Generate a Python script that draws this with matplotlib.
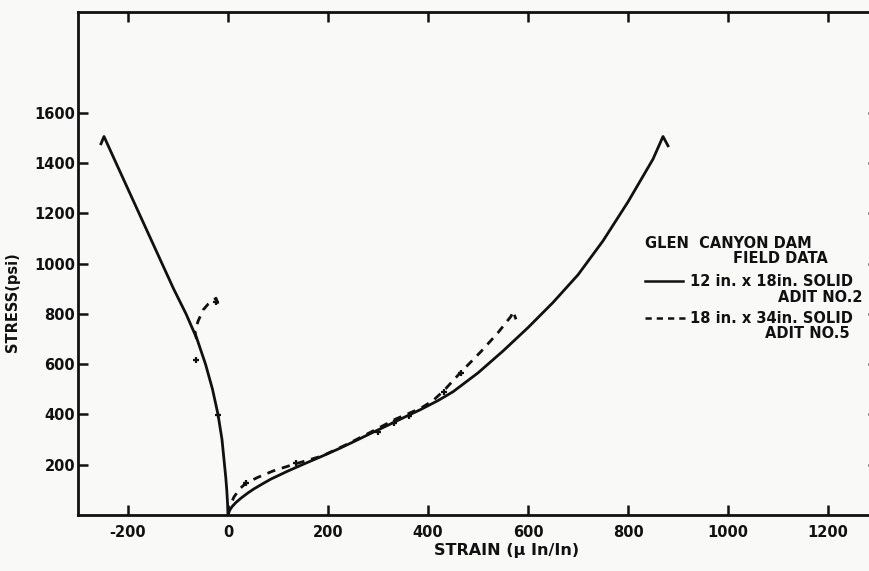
import matplotlib
matplotlib.use("Agg")
import matplotlib.pyplot as plt

# Solid curve: 12 in. x 18 in. solid, Adit No.2 (compression side, left)
solid_left_stress = [0, 50, 100, 150, 200, 300, 400, 500, 600, 700, 800, 900, 1000, 1100, 1200, 1300, 1400, 1505, 1476]
solid_left_strain = [0, -1, -2.5, -4.5, -7, -12, -20, -31, -45, -62, -84, -109, -132, -155, -178, -201, -224, -248, -254]
# Solid curve (tension side, right)
solid_right_strain = [0, 3, 8, 16, 26, 40, 52, 70, 86, 120, 152, 186, 220, 252, 286, 320, 352, 386, 420, 450,
                      500, 550, 600, 650, 700, 750, 800, 850, 870, 880]
solid_right_stress = [0, 18, 33, 50, 67, 88, 104, 125, 143, 175, 203, 232, 262, 292, 325, 357, 388, 420, 455, 490,
                      565, 652, 745, 845, 955, 1090, 1245, 1415, 1505, 1468]

# Dashed curve: 18 in. x 34 in. solid, Adit No.5
dash_left_strain = [-63, -66, -60, -50, -40, -30, -24, -20]
dash_left_stress = [700, 730, 770, 815, 838, 852, 862, 840]
dash_right_strain = [0, 5, 12, 24, 36, 60, 90, 126, 160, 190, 240, 286, 336, 386, 410, 432, 462, 506, 540, 566, 570, 576]
dash_right_stress = [0, 40, 72, 105, 127, 150, 175, 198, 218, 236, 283, 330, 382, 425, 455, 495, 560, 650, 725, 790, 810, 778]

# Scattered data marks along the curves
mark_strain = [-64, -20, -24, 36, 136, 300, 332, 362, 432, 466]
mark_stress = [615, 397, 845, 127, 205, 330, 365, 395, 490, 565]

x_ticks = [-200, 0, 200, 400, 600, 800, 1000, 1200]
y_ticks = [200, 400, 600, 800, 1000, 1200, 1400, 1600]

fig = plt.figure(figsize=(8.69, 5.71), dpi=100)
bg = "#f9f9f7"
fig.patch.set_facecolor(bg)
W, H = 869, 571
ax = fig.add_axes([78 / W, (H - 515) / H, 800 / W, 503 / H])
ax.set_facecolor(bg)

lc = "#111111"
ax.plot(solid_left_strain, solid_left_stress, color=lc, lw=2.0, solid_joinstyle="round")
ax.plot(solid_right_strain, solid_right_stress, color=lc, lw=2.0, solid_joinstyle="round")
ax.plot(dash_left_strain, dash_left_stress, color=lc, lw=2.0, ls=(0, (3, 2.5)))
ax.plot(dash_right_strain, dash_right_stress, color=lc, lw=2.0, ls=(0, (3, 2.5)))
ax.plot(mark_strain, mark_stress, ls="none", marker="+", ms=4, mew=1.6, color=lc)

ax.set_xlim(-300, 1300)
ax.set_ylim(0, 2000)
ax.set_xticks(x_ticks)
ax.set_yticks(y_ticks)
ax.set_xticklabels([str(v) for v in x_ticks], fontweight="bold")
ax.set_yticklabels([str(v) for v in y_ticks], fontweight="bold")
ax.tick_params(axis="both", direction="in", length=7, width=1.8, color=lc,
               labelsize=10.5, labelcolor=lc, top=True, right=True)
ax.tick_params(axis="x", pad=7)
ax.tick_params(axis="y", pad=2)
for s in ax.spines.values():
    s.set_linewidth(2.0)
    s.set_color(lc)

ax.set_xlabel("STRAIN (μ In/In)", fontsize=11.5, color=lc, labelpad=3,
              fontweight="bold")
ax.xaxis.set_label_coords(0.536, -0.055)
ax.set_ylabel("STRESS(psi)", fontsize=10.5, color=lc, fontweight="bold")
ax.yaxis.set_label_coords(-0.073, 0.423)

# Legend block
fs = 10.5
fw = "bold"
ax.text(834, 1081, "GLEN  CANYON DAM", ha="left", va="center", fontsize=fs, color=lc, fontweight=fw)
ax.text(1200, 1018, "FIELD DATA", ha="right", va="center", fontsize=fs, color=lc, fontweight=fw)
ax.plot([834, 910], [930, 930], color=lc, lw=1.8)
ax.text(924, 930, "12 in. x 18in. SOLID", ha="left", va="center", fontsize=fs, color=lc, fontweight=fw)
ax.text(1268, 863, "ADIT NO.2", ha="right", va="center", fontsize=fs, color=lc, fontweight=fw)
ax.plot([834, 914], [783, 783], color=lc, lw=1.8, ls=(0, (2.5, 2)))
ax.text(924, 783, "18 in. x 34in. SOLID", ha="left", va="center", fontsize=fs, color=lc, fontweight=fw)
ax.text(1244, 720, "ADIT NO.5", ha="right", va="center", fontsize=fs, color=lc, fontweight=fw)

fig.savefig("out.png", dpi=100, facecolor=fig.get_facecolor())
